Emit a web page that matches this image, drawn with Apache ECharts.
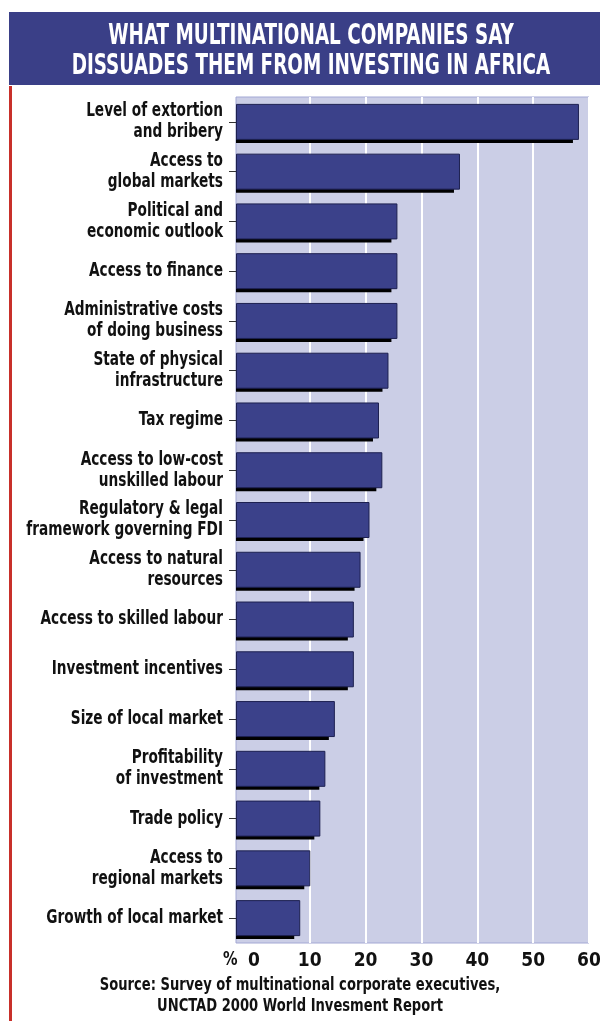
<!DOCTYPE html>
<html>
<head>
<meta charset="utf-8">
<script src="https://cdn.jsdelivr.net/npm/echarts@6/dist/echarts.min.js"></script>
<style>
  html, body { margin: 0; padding: 0; background: #ffffff; }
  #chart { width: 600px; height: 1021px; }
</style>
</head>
<body>
<div id="chart"></div>
<script>
// Reasons cited by multinational companies (share of respondents, %)
const categories = [
  'Level of extortion\nand bribery',
  'Access to\nglobal markets',
  'Political and\neconomic outlook',
  'Access to finance',
  'Administrative costs\nof doing business',
  'State of physical\ninfrastructure',
  'Tax regime',
  'Access to low-cost\nunskilled labour',
  'Regulatory & legal\nframework governing FDI',
  'Access to natural\nresources',
  'Access to skilled labour',
  'Investment incentives',
  'Size of local market',
  'Profitability\nof investment',
  'Trade policy',
  'Access to\nregional markets',
  'Growth of local market'
];
const shares = [58.2, 36.9, 25.7, 25.7, 25.7, 24.1, 22.4, 23.0, 20.7, 19.1, 17.9, 17.9, 14.5, 12.8, 11.9, 10.1, 8.3];
const tickLabels = [0, 10, 20, 30, 40, 50, 60];
const gridLines = [10, 20, 30, 40, 50, 60];

const FONT = '"DejaVu Sans Condensed", "DejaVu Sans", sans-serif';
const NAVY = '#3a3f87';
const AXIS_MIN = -3.2;
const AXIS_MAX = 60;

const chart = echarts.init(document.getElementById('chart'), null, { renderer: 'canvas' });

// Category labels in a narrow, tall face, anchored to the category axis
function renderCategoryLabel(params, api) {
  const pt = api.coord([AXIS_MIN, api.value(0)]);
  return {
    type: 'text',
    x: pt[0] - 13,
    y: pt[1],
    scaleX: 0.8,
    style: {
      text: categories[params.dataIndex],
      fill: '#111111',
      font: 'bold 19px ' + FONT,
      align: 'right',
      verticalAlign: 'middle',
      lineHeight: 21
    }
  };
}

chart.setOption({
  animation: false,
  backgroundColor: '#ffffff',
  graphic: [
    // header banner
    { type: 'rect', z: 5, shape: { x: 9, y: 12, width: 591, height: 73 }, style: { fill: NAVY } },
    {
      type: 'text', z: 6, x: 311, y: 51.5, scaleX: 0.73,
      style: {
        text: 'WHAT MULTINATIONAL COMPANIES SAY\nDISSUADES THEM FROM INVESTING IN AFRICA',
        fill: '#ffffff',
        font: 'bold 28px ' + FONT,
        align: 'center',
        verticalAlign: 'middle',
        lineHeight: 30
      }
    },
    // red rule down the left side
    { type: 'rect', z: 5, shape: { x: 9, y: 86, width: 3, height: 935 }, style: { fill: '#c8302a' } },
    // unit marker in front of the first tick label
    {
      type: 'text', z: 6, x: 223, y: 960, scaleX: 0.85,
      style: { text: '%', fill: '#111111', font: 'bold 19px ' + FONT, align: 'left', verticalAlign: 'middle' }
    },
    // source note
    {
      type: 'text', z: 6, x: 300, y: 996, scaleX: 0.81,
      style: {
        text: 'Source: Survey of multinational corporate executives,\nUNCTAD 2000 World Invesment Report',
        fill: '#111111',
        font: 'bold 18px ' + FONT,
        align: 'center',
        verticalAlign: 'middle',
        lineHeight: 21
      }
    }
  ],
  grid: [
    {
      left: 236, right: 11, top: 97, bottom: 78,
      show: true,
      backgroundColor: '#cbcee6',
      borderColor: '#a3a8d4',
      borderWidth: 1,
      containLabel: false,
      outerBoundsMode: 'none'
    },
    // drop-shadow layer: shifted 6px left and 3px down
    {
      left: 230, right: 17, top: 100, bottom: 75,
      show: false,
      containLabel: false,
      outerBoundsMode: 'none'
    }
  ],
  xAxis: [
    {
      type: 'value',
      gridIndex: 0,
      min: AXIS_MIN,
      max: AXIS_MAX,
      startValue: AXIS_MIN,
      axisLine: { show: false },
      axisTick: { show: false, customValues: gridLines },
      splitLine: { show: true, lineStyle: { color: '#ffffff', width: 2 } },
      axisLabel: {
        customValues: tickLabels,
        color: '#111111',
        fontFamily: FONT,
        fontWeight: 'bold',
        fontSize: 19,
        margin: 9
      }
    },
    {
      type: 'value',
      gridIndex: 1,
      min: AXIS_MIN,
      max: AXIS_MAX,
      startValue: -2.13,
      show: false
    }
  ],
  yAxis: [
    {
      type: 'category',
      gridIndex: 0,
      data: categories,
      inverse: true,
      axisLine: { show: false, onZero: false },
      axisTick: { show: true, alignWithLabel: true, length: 7, lineStyle: { color: '#333333', width: 1 } },
      splitLine: { show: false },
      axisLabel: { show: false }
    },
    {
      type: 'category',
      gridIndex: 1,
      data: categories,
      inverse: true,
      show: false
    }
  ],
  series: [
    {
      type: 'bar',
      name: 'shadow',
      xAxisIndex: 1,
      yAxisIndex: 1,
      data: shares,
      barWidth: 36,
      z: 1,
      silent: true,
      itemStyle: { color: '#000000' }
    },
    {
      type: 'bar',
      xAxisIndex: 0,
      yAxisIndex: 0,
      data: shares,
      barWidth: 36,
      z: 2,
      itemStyle: {
        color: '#3b418a',
        borderColor: '#1d2050',
        borderWidth: 1
      }
    },
    {
      type: 'custom',
      xAxisIndex: 0,
      yAxisIndex: 0,
      data: categories.map((c, i) => [i]),
      encode: { y: 0 },
      renderItem: renderCategoryLabel,
      silent: true,
      clip: false,
      z: 5
    }
  ]
});
</script>
</body>
</html>
